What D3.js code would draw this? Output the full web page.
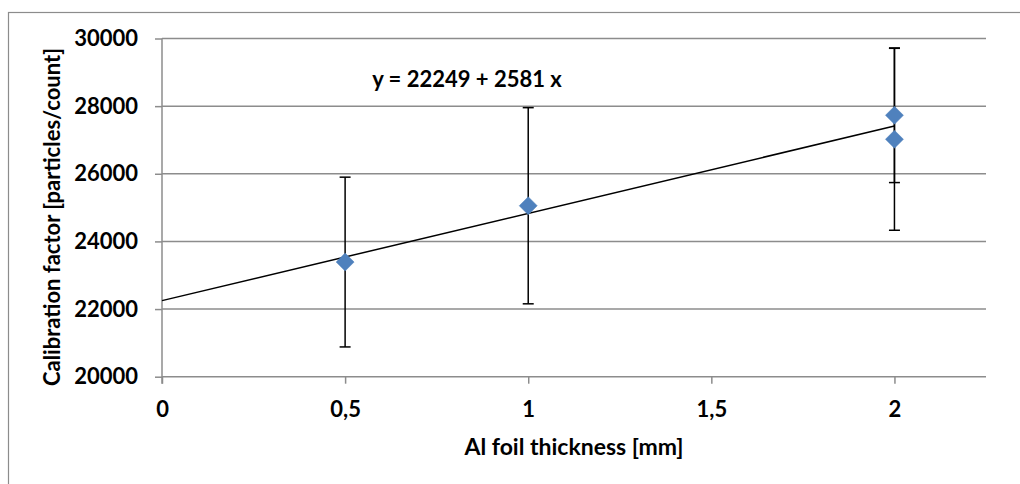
<!DOCTYPE html>
<html>
<head>
<meta charset="utf-8">
<script src="https://cdn.jsdelivr.net/npm/d3@7"></script>
<style>
  body { margin: 0; background: #fff; }
  svg { display: block; font-family: Lato, "Open Sans", sans-serif; font-weight: bold; }
</style>
</head>
<body>
<div class="chart"></div>
<script>
// data
const thickness = [0.5, 1, 2, 2];
const calibration = [23390, 25055, 27730, 27020];
const errors = [2510, 2900, 1990, 2690];
const yTicks = [20000, 22000, 24000, 26000, 28000, 30000];
const xTicks = [0, 0.5, 1, 1.5, 2];
const fitIntercept = 22249;
const fitSlope = 2581;
const fitRange = [0, 2];

const width = 1020, height = 484;
const margin = { top: 38.5, right: 34, bottom: 107.3, left: 162 };
const innerW = width - margin.left - margin.right;
const innerH = height - margin.top - margin.bottom;

const svg = d3.select('.chart')
  .append('svg')
    .attr('width', width)
    .attr('height', height);

// outer chart frame
svg.append('rect')
  .attr('x', 8.5).attr('y', 12.5)
  .attr('width', 1100).attr('height', 600)
  .attr('fill', 'none')
  .attr('stroke', '#8c8c8c')
  .attr('stroke-width', 1.2);

const g = svg.append('g')
  .attr('transform', `translate(${margin.left}, ${margin.top})`);

const x = d3.scaleLinear().domain([0, 2.25]).range([0, innerW]);
const y = d3.scaleLinear().domain([20000, 30000]).range([innerH, 0]);

const fmt = d => String(d).replace('.', ',');

// horizontal gridlines
g.append('g')
  .selectAll('line')
  .data(yTicks)
  .enter()
  .append('line')
    .attr('x1', 0).attr('x2', innerW)
    .attr('y1', d => y(d)).attr('y2', d => y(d))
    .attr('stroke', '#8c8c8c')
    .attr('stroke-width', 1.5);

// y axis
const yAxis = d3.axisLeft(y).tickValues(yTicks).tickSize(7).tickPadding(17).tickFormat(d => d);
const yg = g.append('g').call(yAxis);
yg.select('.domain').attr('d', `M0,0V${innerH + 7}`);

// x axis
const xAxis = d3.axisBottom(x).tickValues(xTicks).tickSize(7).tickPadding(18).tickFormat(fmt);
const xg = g.append('g')
  .attr('transform', `translate(0, ${innerH})`)
  .call(xAxis);
xg.select('.domain').remove();

[yg, xg].forEach(a => {
  a.selectAll('.domain, .tick line').attr('stroke', '#8c8c8c').attr('stroke-width', 1.5);
  a.selectAll('.tick text')
    .attr('fill', '#000')
    .style('font-size', '22px')
    .style('font-family', 'Lato, "Open Sans", sans-serif')
    .style('font-weight', 'bold');
});

// trend line
g.append('line')
  .attr('x1', x(fitRange[0])).attr('y1', y(fitIntercept + fitSlope * fitRange[0]))
  .attr('x2', x(fitRange[1])).attr('y2', y(fitIntercept + fitSlope * fitRange[1]))
  .attr('stroke', '#000')
  .attr('stroke-width', 1.5);

// error bars
const pts = thickness.map((t, i) => ({ t, v: calibration[i], e: errors[i] }));
const eb = g.append('g').selectAll('g').data(pts).enter().append('g')
  .attr('stroke', '#000')
  .attr('stroke-width', 1.5);
eb.append('line')
  .attr('x1', d => x(d.t)).attr('x2', d => x(d.t))
  .attr('y1', d => y(d.v - d.e)).attr('y2', d => y(d.v + d.e));
eb.append('line')
  .attr('x1', d => x(d.t) - 5.5).attr('x2', d => x(d.t) + 5.5)
  .attr('y1', d => y(d.v - d.e)).attr('y2', d => y(d.v - d.e));
eb.append('line')
  .attr('x1', d => x(d.t) - 5.5).attr('x2', d => x(d.t) + 5.5)
  .attr('y1', d => y(d.v + d.e)).attr('y2', d => y(d.v + d.e));

// markers
g.append('g').selectAll('path').data(pts).enter().append('path')
  .attr('transform', d => `translate(${x(d.t)}, ${y(d.v)})`)
  .attr('d', 'M0,-9L9,0L0,9L-9,0Z')
  .attr('fill', '#4f81bd')
  .attr('stroke', '#4f81bd')
  .attr('stroke-width', 0.5);

// equation label
svg.append('text')
  .attr('x', 467).attr('y', 87)
  .attr('text-anchor', 'middle')
  .style('font-size', '22px')
  .text(`y = ${fitIntercept} + ${fitSlope} x`);

// axis titles
svg.append('text')
  .attr('x', margin.left + innerW / 2).attr('y', 455)
  .attr('text-anchor', 'middle')
  .style('font-size', '23px')
  .text('Al foil thickness [mm]');

svg.append('text')
  .attr('transform', 'translate(60, 217) rotate(-90)')
  .attr('text-anchor', 'middle')
  .style('font-size', '22px')
  .text('Calibration factor [particles/count]');
</script>
</body>
</html>
